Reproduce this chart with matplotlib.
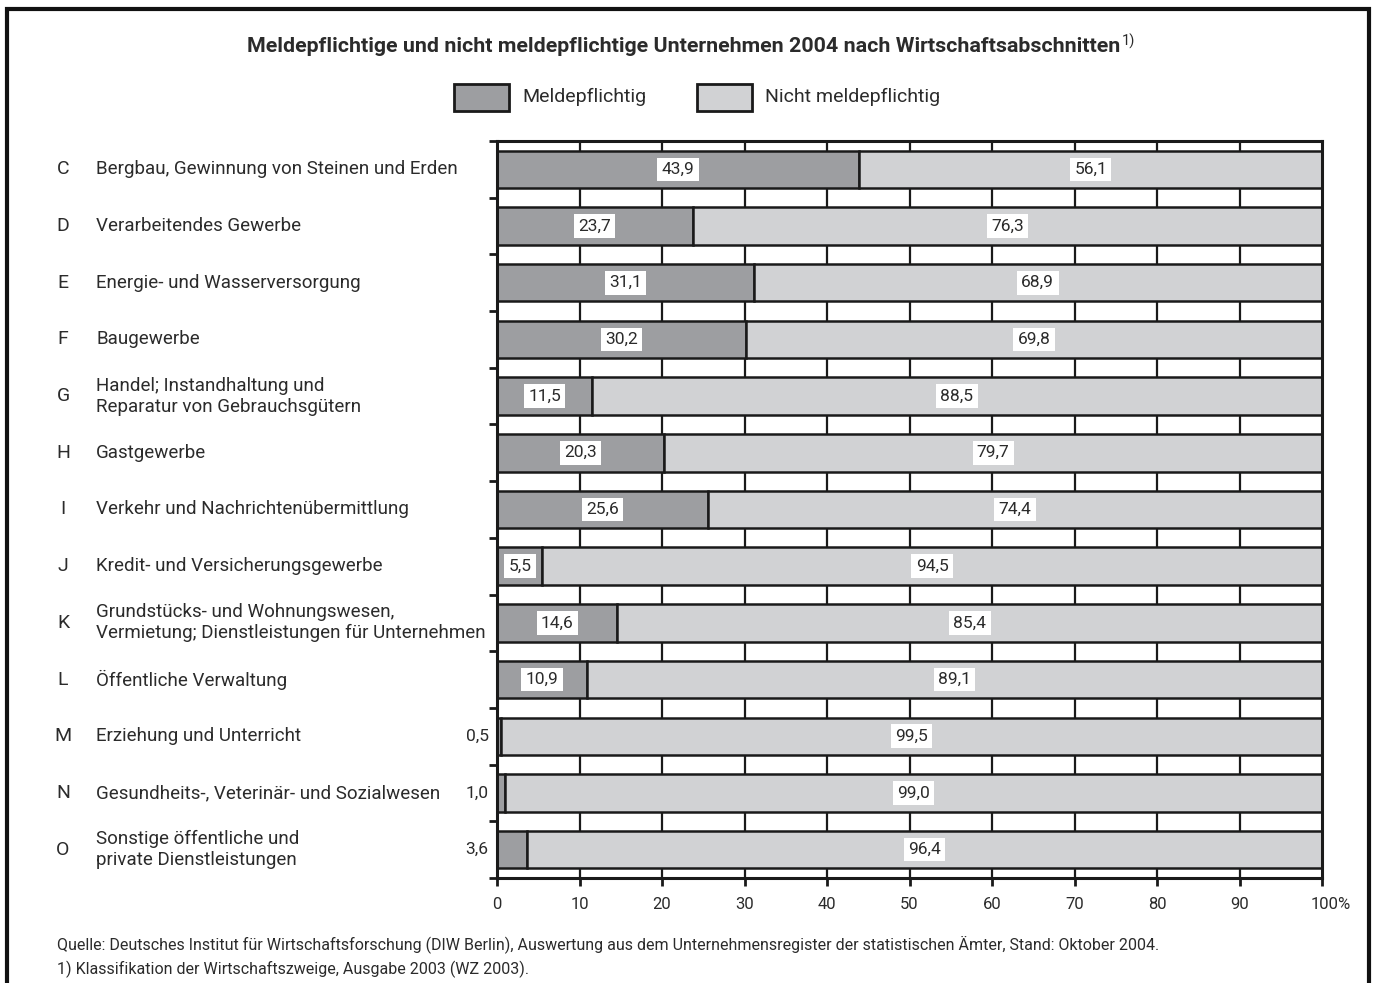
import matplotlib
matplotlib.use("Agg")
import matplotlib.pyplot as plt
import matplotlib.patches as mpatches
import matplotlib.transforms as mtransforms
import numpy as np

plt.rcParams['font.family'] = ['Roboto', 'DejaVu Sans']
plt.rcParams['text.color'] = '#2b2b2b'

# Daten
codes = ['C', 'D', 'E', 'F', 'G', 'H', 'I', 'J', 'K', 'L', 'M', 'N', 'O']
branchen = [
    'Bergbau, Gewinnung von Steinen und Erden',
    'Verarbeitendes Gewerbe',
    'Energie- und Wasserversorgung',
    'Baugewerbe',
    'Handel; Instandhaltung und\nReparatur von Gebrauchsgütern',
    'Gastgewerbe',
    'Verkehr und Nachrichtenübermittlung',
    'Kredit- und Versicherungsgewerbe',
    'Grundstücks- und Wohnungswesen,\nVermietung; Dienstleistungen für Unternehmen',
    'Öffentliche Verwaltung',
    'Erziehung und Unterricht',
    'Gesundheits-, Veterinär- und Sozialwesen',
    'Sonstige öffentliche und\nprivate Dienstleistungen',
]
meldepflichtig = [43.9, 23.7, 31.1, 30.2, 11.5, 20.3, 25.6, 5.5, 14.6, 10.9, 0.5, 1.0, 3.6]
nicht_meldepflichtig = [56.1, 76.3, 68.9, 69.8, 88.5, 79.7, 74.4, 94.5, 85.4, 89.1, 99.5, 99.0, 96.4]

c_dunkel = '#9d9ea1'
c_hell = '#d1d2d4'
c_text = '#2b2b2b'
c_linie = '#1a1a1a'

W, H = 1376, 983
fig = plt.figure(figsize=(W / 100, H / 100), dpi=100)
fig.patch.set_facecolor('white')

ax = fig.add_axes([497 / W, 1 - 878 / H, (1322 - 497) / W, (878 - 141) / H])
y = np.arange(len(codes))
m = np.array(meldepflichtig)
n = np.array(nicht_meldepflichtig)

ax.set_xlim(0, 100)
ax.set_ylim(12.49, -0.475)

# senkrechte Hilfslinien hinter den Balken
for xv in range(10, 100, 10):
    ax.axvline(xv, color=c_linie, lw=1.6, zorder=0)

ax.barh(y, m, height=0.66, color=c_dunkel, edgecolor=c_linie, linewidth=1.8, zorder=2)
ax.barh(y, n, left=m, height=0.66, color=c_hell, edgecolor=c_linie, linewidth=1.8, zorder=2)

def fmt(v):
    return f'{v:.1f}'.replace('.', ',')

box = dict(boxstyle='square,pad=0.25', fc='white', ec='none')
for i in range(len(codes)):
    if m[i] >= 5:
        ax.text(m[i] / 2, i, fmt(m[i]), ha='center', va='center',
                fontsize=12.5, color=c_text, bbox=box, zorder=4)
    else:
        # kleine Anteile links neben der Achse
        ax.annotate(fmt(m[i]), (0, i), xytext=(-6, 0),
                    textcoords='offset points', ha='right', va='center',
                    fontsize=12.5, color=c_text, annotation_clip=False)
    ax.text(m[i] + n[i] / 2, i, fmt(n[i]), ha='center', va='center',
            fontsize=12.5, color=c_text, bbox=box, zorder=4)

# Achsen
for s in ['left', 'top', 'bottom', 'right']:
    ax.spines[s].set_linewidth(2.2)
    ax.spines[s].set_color(c_linie)
ax.set_xticks(np.arange(0, 101, 10))
ax.set_xticklabels([str(v) for v in range(0, 100, 10)] + ['100%'], fontsize=12, color=c_text)
ax.tick_params(axis='x', direction='out', length=6, width=2, color=c_linie, pad=8)
ax.set_yticks(np.arange(-0.5, 13, 1))
ax.set_yticklabels([])
ax.tick_params(axis='y', direction='out', length=6, width=2, color=c_linie)

# "100%" etwas nach rechts schieben
lab = ax.get_xticklabels()[-1]
lab.set_transform(lab.get_transform() + mtransforms.ScaledTranslation(6 / 72, 0, fig.dpi_scale_trans))

# Kategorien links
trans = mtransforms.blended_transform_factory(fig.transFigure, ax.transData)
for i in range(len(codes)):
    fig.text(63 / W, i, codes[i], transform=trans, ha='center', va='center',
             fontsize=14, color=c_text)
    fig.text(96 / W, i, branchen[i], transform=trans, ha='left', va='center',
             fontsize=13.5, color=c_text, linespacing=1.2)

# Titel
fig.text(1120 / W, 1 - 47 / H,
         'Meldepflichtige und nicht meldepflichtige Unternehmen 2004 nach Wirtschaftsabschnitten',
         ha='right', va='center', fontsize=15.4, fontweight='bold', color=c_text)
fig.text(1122 / W, 1 - 41 / H, '1)', ha='left', va='center', fontsize=10.5, color=c_text)

# Legende
fig.patches.append(mpatches.Rectangle((454 / W, 1 - 111 / H), 55 / W, 27 / H,
                                      transform=fig.transFigure, fc=c_dunkel,
                                      ec=c_linie, lw=2))
fig.text(522 / W, 1 - 97 / H, 'Meldepflichtig', ha='left', va='center', fontsize=14, color=c_text)
fig.patches.append(mpatches.Rectangle((697 / W, 1 - 111 / H), 55 / W, 27 / H,
                                      transform=fig.transFigure, fc=c_hell,
                                      ec=c_linie, lw=2))
fig.text(765 / W, 1 - 97 / H, 'Nicht meldepflichtig', ha='left', va='center', fontsize=14, color=c_text)

# Quelle und Fußnote
fig.text(57 / W, 1 - 944 / H,
         'Quelle: Deutsches Institut für Wirtschaftsforschung (DIW Berlin), Auswertung aus dem '
         'Unternehmensregister der statistischen Ämter, Stand: Oktober 2004.',
         ha='left', va='center', fontsize=11.5, color=c_text)
fig.text(57 / W, 1 - 969 / H, '1) Klassifikation der Wirtschaftszweige, Ausgabe 2003 (WZ 2003).',
         ha='left', va='center', fontsize=11.5, color=c_text)

# Rahmen
fig.patches.append(mpatches.Rectangle((7 / W, -0.05), 1362 / W, 1.05 - 9 / H,
                                      transform=fig.transFigure, fill=False,
                                      ec='#111111', lw=3, clip_on=False))

fig.savefig('out.png', dpi=100)
